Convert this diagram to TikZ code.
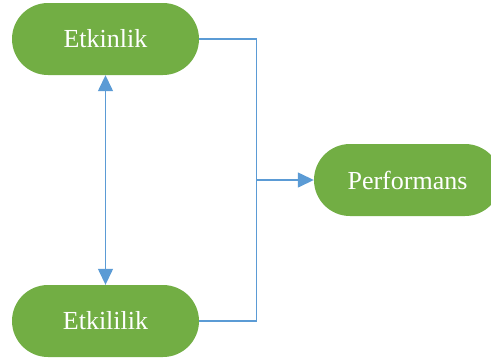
\documentclass[tikz,border=0pt]{standalone}
\usepackage{fontspec}
\setmainfont{Liberation Serif}
\usetikzlibrary{arrows.meta}
\definecolor{pillgreen}{HTML}{72AE44}
\definecolor{linkblue}{HTML}{5B9BD5}
\tikzset{
  pill/.style={fill=pillgreen, draw=none, rounded corners=36pt,
    minimum width=187pt, minimum height=72pt, inner sep=0pt,
    text=white, font=\fontsize{26}{30}\selectfont},
  link/.style={draw=linkblue, line width=1.4pt},
  tip/.style={-{Triangle[length=16pt,width=15pt]}}
}
\begin{document}
\begin{tikzpicture}[x=1pt,y=-1pt]
  \useasboundingbox (0,0) rectangle (491,360);
  \node[pill] (etkinlik) at (105.5,39) {Etkinlik};
  \node[pill] (etkililik) at (105.5,321) {Etkililik};
  \node[pill] (perf) at (407.5,180) {Performans};
  \coordinate (join) at (256.5,180);
  % merge of the two inputs into one arrow
  \draw[link] (etkinlik.east) -| (join);
  \draw[link] (etkililik.east) -| (join);
  \draw[link,tip] (join) -- (perf.west);
  % two-way link between the inputs
  \draw[link,{Triangle[length=16pt,width=15pt]}-{Triangle[length=16pt,width=15pt]}]
    (etkinlik.south) -- (etkililik.north);
\end{tikzpicture}
\end{document}
